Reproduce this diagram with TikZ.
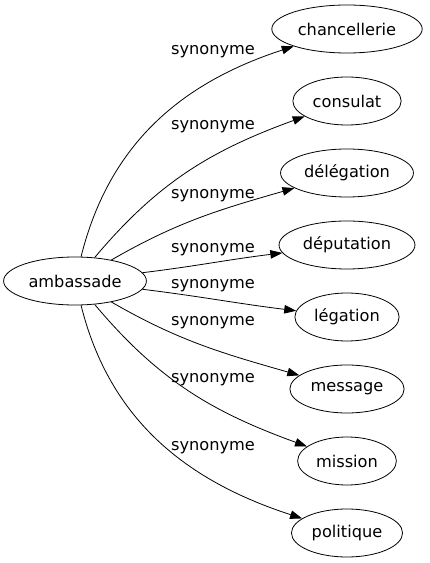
\documentclass[tikz,border=0pt]{standalone}
\usepackage{fontspec}
\setmainfont{DejaVu Sans}
\usepackage{tikz}
\usetikzlibrary{positioning,shapes.geometric}
\usetikzlibrary{arrows.meta}

\begin{document}
\begin{tikzpicture}[
  x = 1pt,
  y = 1pt,
  word/.style = {
    draw,
    ellipse,
    font = \fontsize{16.2}{19}\selectfont,
    inner xsep = 4pt,
    inner ysep = 0pt,
    minimum height = 48pt,
    line width = 0.8pt,
  },
  rel/.style = {
    font = \fontsize{16.2}{19}\selectfont,
    inner sep = 0pt,
  },
  >={Triangle[length=12pt,width=8.5pt]},
]

  \useasboundingbox (0,0) rectangle (430,563);

  \node[word] (amb) at (75,282) {ambassade};

  \node[word] (chan) at (347,534) {chancellerie};
  \node[word] (cons) [below=23.2pt of chan] {consulat};
  \node[word] (dele) [below=23.2pt of cons] {délégation};
  \node[word] (depu) [below=23.2pt of dele] {députation};
  \node[word] (lega) [below=23.2pt of depu] {légation};
  \node[word] (mess) [below=23.2pt of lega] {message};
  \node[word] (miss) [below=23.2pt of mess] {mission};
  \node[word] (poli) [below=23.2pt of miss] {politique};

  \node[rel] (s1) at (213,511) {synonyme};
  \node[rel] (s2) at (213,436) {synonyme};
  \node[rel] (s3) at (213,367.5) {synonyme};
  \node[rel] (s4) at (213,313) {synonyme};
  \node[rel] (s5) at (213,277) {synonyme};
  \node[rel] (s6) at (213,240) {synonyme};
  \node[rel] (s7) at (213,183) {synonyme};
  \node[rel] (s8) at (213,115) {synonyme};

  \path[->,line width=0.8pt] (amb) edge[out=76,in=-162] (chan);
  \path[->,line width=0.8pt] (amb) edge[out=50,in=-160] (cons);
  \path[->,line width=0.8pt] (amb) edge[out=30,in=-164] (dele);
  \path[->,line width=0.8pt] (amb) edge[out=7,in=-173] (depu);
  \path[->,line width=0.8pt] (amb) edge[out=-7,in=173] (lega);
  \path[->,line width=0.8pt] (amb) edge[out=-30,in=164] (mess);
  \path[->,line width=0.8pt] (amb) edge[out=-50,in=160] (miss);
  \path[->,line width=0.8pt] (amb) edge[out=-76,in=162] (poli);

\end{tikzpicture}
\end{document}
